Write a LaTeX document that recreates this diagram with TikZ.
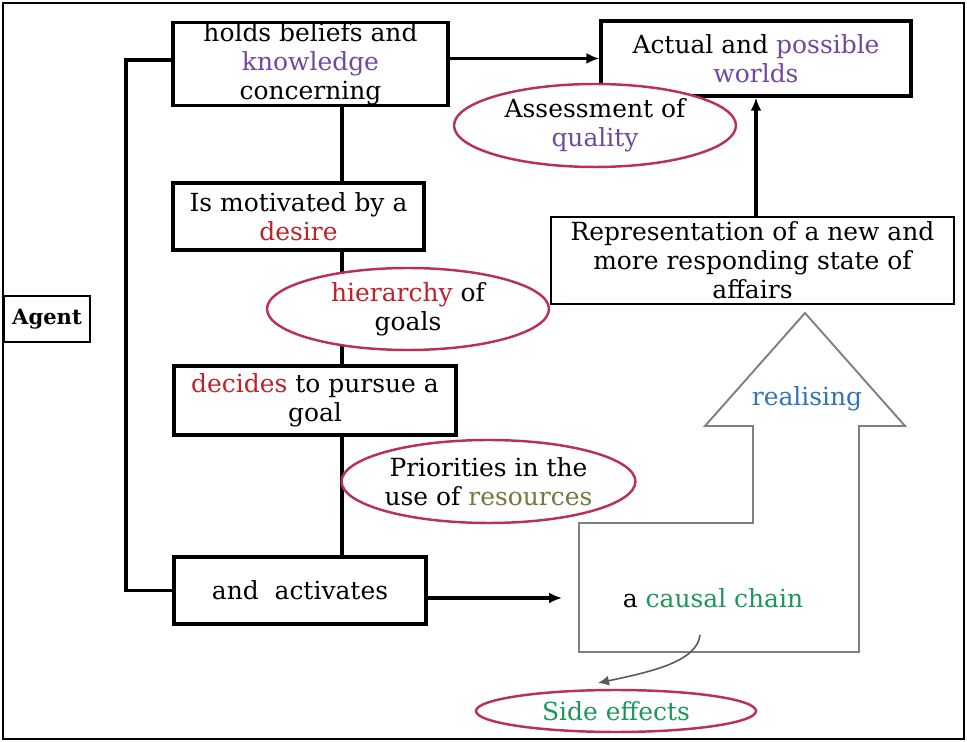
\documentclass[tikz,border=0pt]{standalone}
\usepackage{fontspec}
\setmainfont{DejaVu Serif}
\usetikzlibrary{shapes.geometric,arrows.meta}
\definecolor{KnowPurple}{RGB}{112,72,160}
\definecolor{WishRed}{RGB}{192,32,40}
\definecolor{StockOlive}{RGB}{120,118,60}
\definecolor{RealBlue}{RGB}{46,117,182}
\definecolor{ChainGreen}{RGB}{30,150,90}
\definecolor{OvalRim}{RGB}{185,50,85}
\begin{document}
\begin{tikzpicture}[x=0.02cm,y=-0.02cm,
        every node/.style={font=\fontsize{14.2pt}{16.5pt}\selectfont,align=center},
        box/.style={draw,line width=1.9pt,fill=white,inner sep=0pt},
        thinbox/.style={draw,line width=0.9pt,fill=white,inner sep=0pt},
        oval/.style={ellipse,draw=OvalRim,line width=1.4pt,fill=white,inner sep=0pt},
        link/.style={line width=1.9pt},
        linkarrow/.style={line width=1.9pt,-{Latex[length=2.6mm,width=2.2mm]}}]
            \useasboundingbox (0,0) rectangle (967,742);
            \draw[line width=1.5pt] (3,3) rectangle (964,739);

            \coordinate (Spine) at (342,0);
            \coordinate (ChainIn) at (562,598);
            \coordinate (ChainOut) at (700,635);
            \coordinate (EffectsIn) at (598,683);

            \node[box,minimum width=5.5cm,minimum height=1.64cm] (BeliefsBox) at (310.5,64)
                {holds beliefs and\\{\color{KnowPurple}knowledge}\\concerning};
            \node[box,minimum width=5.02cm,minimum height=1.34cm] (DesireBox) at (298.5,216.5)
                {Is motivated by a\\{\color{WishRed}desire}};
            \node[box,minimum width=5.64cm,minimum height=1.38cm] (DecidesBox) at (315,400.5)
                {{\color{WishRed}decides} to pursue a\\goal};
            \node[box,minimum width=5.04cm,minimum height=1.34cm] (ActivatesBox) at (300,590.5)
                {and\ \ activates};
            \node[thinbox,minimum width=1.72cm,minimum height=0.92cm,font=\fontsize{12pt}{14pt}\selectfont\bfseries]
                (AgentBox) at (47,319) {Agent};
            \node[box,minimum width=6.2cm,minimum height=1.5cm] (ActualBox) at (756,58.5)
                {Actual and {\color{KnowPurple}possible}\\{\color{KnowPurple}worlds}};
            \node[thinbox,minimum width=8.06cm,minimum height=1.74cm] (RepBox) at (752.5,260.5)
                {Representation of a new and\\more responding state of\\affairs};

            % spine and rail
            \draw[link] (BeliefsBox.south -| Spine) -- (DesireBox.north -| Spine);
            \draw[link] (DesireBox.south -| Spine) -- (DecidesBox.north -| Spine);
            \draw[link] (DecidesBox.south -| Spine) -- (ActivatesBox.north -| Spine);
            \draw[link] (BeliefsBox.west |- 0,60) -- (126,60) |- (ActivatesBox.west);
            \draw[linkarrow] (BeliefsBox.east |- ActualBox) -- (ActualBox.west);
            \draw[linkarrow] (RepBox.north -| ActualBox) -- (ActualBox.south);
            \draw[linkarrow] (ActivatesBox.east |- ChainIn) -- (ChainIn);

            \node[oval,minimum width=5.64cm,minimum height=1.64cm] (HierarchyOval) at (408,309)
                {{\color{WishRed}hierarchy} of\\goals};
            \node[oval,minimum width=5.86cm,minimum height=1.66cm] (PrioritiesOval) at (488.5,481.5)
                {Priorities in the\\use of {\color{StockOlive}resources}};
            \node[oval,minimum width=5.64cm,minimum height=1.66cm] (AssessOval) at (595,125.5)
                {Assessment of\\{\color{KnowPurple}quality}};

            % big arrow
            \draw[gray,line width=1.1pt] (805,313) -- (905,426) -- (859,426) -- (859,652) -- (579,652)
                -- (579,523) -- (753,523) -- (753,426) -- (705,426) -- cycle;
            \node[text=RealBlue] (RealisingText) at (807,399) {realising};
            \node (ChainText) at (713,598) {a {\color{ChainGreen}causal chain}};

            \node[oval,minimum width=5.6cm,minimum height=0.84cm] (EffectsOval) at (616,711)
                {\color{ChainGreen}Side effects};
            \draw[gray!70!black,line width=0.9pt,-{Latex[length=2.2mm,width=2mm]}] (ChainOut)
                .. controls (697,662) and (650,672) .. (EffectsIn);
        \end{tikzpicture}
\end{document}
